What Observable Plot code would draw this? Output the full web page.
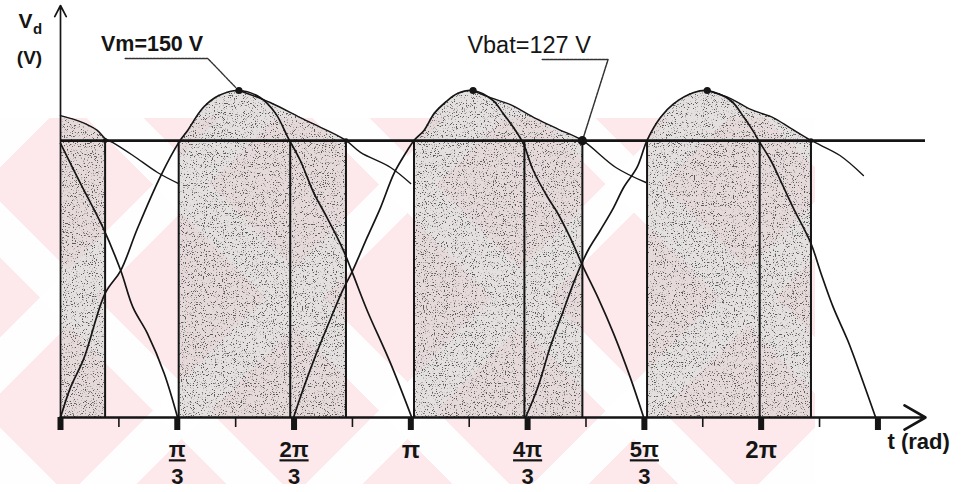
<!DOCTYPE html>
<html>
<head>
<meta charset="utf-8">
<script src="https://cdn.jsdelivr.net/npm/d3@7"></script>
<script src="https://cdn.jsdelivr.net/npm/@observablehq/plot@0.6"></script>
<style>
  html, body { margin: 0; padding: 0; background: #fff; }
  #chart { position: relative; width: 963px; height: 492px; overflow: hidden; }
  #wm {
    position: absolute; left: 0; top: 118px; width: 815px; height: 366px;
    background-color: #fde9ec;
    background-image:
      repeating-linear-gradient(45deg, rgba(255,255,255,0.97) 0 40px, transparent 40px 160px),
      repeating-linear-gradient(-45deg, rgba(255,255,255,0.97) 0 40px, transparent 40px 160px);
  }
  #chart svg { position: absolute; left: 0; top: 0; }
</style>
</head>
<body>
<div id="chart"><div id="wm"></div></div>
<script>
// Rectified output of a three-phase supply charging a battery: [t (rad), v (V)]
const vm = 150;
const vbat = 127;

// phase c (tail of the previous half-cycle)
const phaseC0 = [[0, 125.7], [0.18, 107.3], [0.38, 87.2], [0.54, 67.4], [0.65, 50.5], [0.78, 38.5], [0.93, 20.2], [1.05, 0]];
// phase a
const phaseA = [[0, 0], [0.09, 13.8], [0.21, 27.1], [0.40, 56.9], [0.54, 67.4], [0.69, 86.7], [0.90, 111.0], [1.06, 126.1],
  [1.14, 131.7], [1.28, 142.2], [1.42, 147.7], [1.60, 150], [1.79, 146.8], [1.93, 139.4], [2.04, 128.4], [2.15, 117.9],
  [2.27, 103.2], [2.39, 91.7], [2.53, 77.5], [2.62, 66.1], [2.75, 49.1], [2.96, 24.8], [3.15, 0]];
// phase b
const phaseB = [[2.09, 0], [2.15, 9.2], [2.27, 26.1], [2.39, 41.3], [2.53, 58.3], [2.62, 67.4], [2.75, 82.6], [2.87, 96.3],
  [2.99, 111.9], [3.11, 122.5], [3.17, 127.1], [3.26, 131.7], [3.35, 139.4], [3.45, 144.5], [3.56, 148.6], [3.70, 150],
  [3.88, 145.4], [3.97, 139.4], [4.08, 131.7], [4.15, 125.7], [4.24, 113.3], [4.37, 100.9], [4.46, 93.6], [4.57, 82.6],
  [4.69, 68.8], [4.82, 55.0], [4.96, 38.5], [5.11, 18.3], [5.23, 0]];
// phase c
const phaseC = [[4.17, 0], [4.28, 13.8], [4.39, 32.1], [4.51, 49.1], [4.62, 64.2], [4.73, 76.6], [4.84, 85.8], [4.96, 96.3],
  [5.05, 105.5], [5.17, 114.7], [5.26, 127.1], [5.38, 137.6], [5.50, 144.0], [5.68, 149.1], [5.80, 150], [6.01, 145.4],
  [6.13, 137.6], [6.22, 130.7], [6.26, 127.1], [6.37, 117.9], [6.46, 108.3], [6.57, 96.3], [6.73, 79.8], [6.82, 66.1],
  [6.93, 50.5], [7.06, 35.3], [7.17, 20.2], [7.31, 0]];

// falling output after each peak
const decay0 = [[0, 138.5], [0.20, 135.3], [0.33, 131.7], [0.40, 128.0], [0.47, 126.1], [0.65, 120.2], [0.87, 112.4], [1.06, 107.3]];
const decay1 = [[1.60, 150], [1.88, 144.5], [2.15, 137.6], [2.39, 131.7], [2.56, 127.1], [2.69, 121.6], [2.96, 114.7], [3.14, 107.3]];
const decay2 = [[3.70, 150], [3.83, 147.2], [4.03, 143.6], [4.26, 137.2], [4.47, 132.1], [4.68, 127.1], [4.98, 114.7], [5.25, 107.8]];
const decay3 = [[5.80, 150], [6.01, 146.3], [6.19, 141.3], [6.39, 137.6], [6.55, 132.6], [6.73, 127.1], [6.99, 120.2], [7.20, 111.0]];

// conduction intervals [start, end] (rad)
const conduction = [[0, 0.40], [1.06, 2.56], [3.17, 4.68], [5.26, 6.73]];
// crossings of the falling phase with Vbat
const phaseCrossings = [2.06, 4.16, 6.27];

// axis ticks
const majorTicks = [0, Math.PI / 3, 2 * Math.PI / 3, Math.PI, 4 * Math.PI / 3, 5 * Math.PI / 3, 2 * Math.PI, 7 * Math.PI / 3];
const minorTicks = [Math.PI / 6, Math.PI / 2, 5 * Math.PI / 6, 7 * Math.PI / 6, 3 * Math.PI / 2, 11 * Math.PI / 6, 13 * Math.PI / 6];
const labelTicks = [Math.PI / 3, 2 * Math.PI / 3, Math.PI, 4 * Math.PI / 3, 5 * Math.PI / 3, 2 * Math.PI];
const tickNumerators = ["π", "2π", "π", "4π", "5π", "2π"];
const tickDenominators = ["3", "3", "", "3", "3", ""];

// ---- derived geometry ----
const tMax = 7.757, vMax = 189;
const rises = [null, phaseA, phaseB, phaseC];
const falls = [decay0, decay1, decay2, decay3];
const pulses = conduction.flatMap(([t0, t1], k) => {
  const peakT = rises[k] ? d3.greatest(rises[k], d => d[1])[0] : -Infinity;
  const up = rises[k] ? rises[k].filter(([t]) => t >= t0 && t <= peakT) : [];
  const down = falls[k].filter(([t]) => t > peakT && t >= t0 && t <= t1);
  return up.concat(down).map(([t, v]) => ({t, v, k}));
});
const peaks = [phaseA, phaseB, phaseC].map(p => d3.greatest(p, d => d[1]));
const ends = conduction.map(([, t1]) => [t1, vbat]);
const boundaries = conduction.flatMap(([t0, t1]) => [t0, t1]).filter(t => t > 0).concat(phaseCrossings);
const curves = [phaseC0, phaseA, phaseB, phaseC];
const decays = [decay0, decay1, decay2, decay3];
const peakA = peaks[0];
const vbatPoint = ends[2];

const fractions = labelTicks.map((t, i) => ({t, num: tickNumerators[i], den: tickDenominators[i]}));

const ink = "#151515";
const font = "'Liberation Sans', Arial, sans-serif";

const lineMarks = (arrs, opts) => arrs.map(a => Plot.line(a, {x: d => d[0], y: d => d[1], curve: "catmull-rom", ...opts}));

const svg = Plot.plot({
  width: 963,
  height: 492,
  marginTop: 5,
  marginBottom: 75,
  marginLeft: 60,
  marginRight: 38,
  style: {background: "transparent", fontFamily: font, overflow: "visible"},
  x: {domain: [0, tMax], label: null},
  y: {domain: [0, vMax], axis: null, label: null},
  marks: [
    // stippled conduction areas
    Plot.areaY(pulses, {x: "t", y1: 0, y2: "v", z: "k", fill: "#d8d1d2", fillOpacity: 0.68, curve: "catmull-rom"}),
    // conduction boundaries
    Plot.ruleX(boundaries, {y1: 0, y2: vbat, stroke: ink, strokeWidth: 2}),
    // battery voltage
    Plot.ruleY([vbat], {stroke: ink, strokeWidth: 2.6}),
    // phase voltages
    ...lineMarks(curves, {stroke: ink, strokeWidth: 1.7}),
    // output decay
    ...lineMarks(decays, {stroke: ink, strokeWidth: 1.4}),
    // axes
    Plot.arrow([0], {x1: 0, y1: 0, x2: 0, y2: vMax, stroke: ink, strokeWidth: 1.7, headLength: 11, headAngle: 55}),
    Plot.arrow([0], {x1: 0, y1: 0, x2: tMax, y2: 0, stroke: ink, strokeWidth: 2.6, headLength: 14, headAngle: 60}),
    Plot.axisX({ticks: majorTicks, tickSize: 13, strokeWidth: 6, stroke: ink, tickFormat: () => "", label: null}),
    Plot.axisX({ticks: minorTicks, tickSize: 10, strokeWidth: 1.6, stroke: ink, tickFormat: () => "", label: null}),
    // tick labels: stacked fractions (numerator underlined below) and whole multiples of π
    Plot.text(fractions.filter(d => d.den), {
      x: "t", y: 0, dy: 21, lineAnchor: "top", lineHeight: 1.2, text: d => `${d.num}\n${d.den}`,
      fontSize: 22, fontWeight: "bold", fill: ink
    }),
    Plot.text(fractions.filter(d => !d.den), {
      x: "t", y: 0, dy: 33, text: "num",
      fontSize: 24, fontWeight: "bold", fill: ink
    }),
    Plot.text(["t (rad)"], {
      frameAnchor: "bottom-right", textAnchor: "start", lineAnchor: "middle", dx: -38, dy: 24,
      text: d => d, fontSize: 22, fontWeight: "bold", fill: ink
    }),
    // y label
    Plot.text(["V"], {frameAnchor: "top-left", textAnchor: "middle", lineAnchor: "middle", dx: -35, dy: 15.5,
      text: d => d, fontSize: 21, fontWeight: "bold", fill: ink}),
    Plot.text(["d"], {frameAnchor: "top-left", textAnchor: "middle", lineAnchor: "middle", dx: -23, dy: 24,
      text: d => d, fontSize: 15, fontWeight: "bold", fill: ink}),
    Plot.text(["(V)"], {frameAnchor: "top-left", textAnchor: "middle", lineAnchor: "middle", dx: -31, dy: 52,
      text: d => d, fontSize: 19, fontWeight: "bold", fill: ink}),
    // annotation: peak voltage
    Plot.line([[peakA[0] - 1.02, 164.7], [peakA[0] - 0.28, 164.7], [peakA[0] - 0.03, 151.5]],
      {x: d => d[0], y: d => d[1], stroke: "#333", strokeWidth: 1.4, strokeDasharray: "2.5 1"}),
    Plot.text([peakA], {x: d => d[0], y: d => d[1], dx: -138, dy: -46.5, textAnchor: "start",
      text: () => `Vm=${vm} V`, fontSize: 21.5, fontWeight: "bold", fill: ink}),
    // annotation: battery voltage
    Plot.line([[vbatPoint[0] - 0.36, 164.2], [vbatPoint[0] + 0.23, 164.2], vbatPoint],
      {x: d => d[0], y: d => d[1], stroke: "#333", strokeWidth: 1.5, strokeDasharray: "3 1"}),
    Plot.text([vbatPoint], {x: d => d[0], y: d => d[1], dx: -115, dy: -95.5, textAnchor: "start",
      text: () => `Vbat=${vbat} V`, fontSize: 23.5, fill: ink}),
    // points
    Plot.dot(peaks, {x: d => d[0], y: d => d[1], r: 3.6, fill: ink}),
    Plot.dot(ends, {x: d => d[0], y: d => d[1], r: 2.4, fill: ink}),
    Plot.dot([vbatPoint], {x: d => d[0], y: d => d[1], r: 4.6, fill: ink})
  ]
});

// grain texture for the shaded conduction areas
const defs = document.createElementNS("http://www.w3.org/2000/svg", "defs");
defs.innerHTML = `
  <filter id="stipple" filterUnits="userSpaceOnUse" x="0" y="0" width="963" height="492">
    <feTurbulence type="fractalNoise" baseFrequency="0.9" numOctaves="2" seed="11" result="noise"/>
    <feColorMatrix in="noise" type="matrix"
      values="0 0 0 0 0.1  0 0 0 0 0.1  0 0 0 0 0.1  -9 0 0 0 3.65" result="dots"/>
    <feComponentTransfer in="SourceAlpha" result="mask"><feFuncA type="linear" slope="4"/></feComponentTransfer>
    <feComposite in="dots" in2="mask" operator="in" result="grain"/>
    <feMerge><feMergeNode in="SourceGraphic"/><feMergeNode in="grain"/></feMerge>
  </filter>`;
svg.prepend(defs);
svg.querySelectorAll('g[aria-label="area"]').forEach(g => g.setAttribute("filter", "url(#stipple)"));

// fraction bar: underline the numerator line of each stacked label
svg.querySelectorAll("text").forEach(t => {
  const spans = t.querySelectorAll("tspan");
  if (spans.length === 2) spans[0].style.textDecoration = "underline";
});

document.getElementById("chart").appendChild(svg);
</script>
</body>
</html>
